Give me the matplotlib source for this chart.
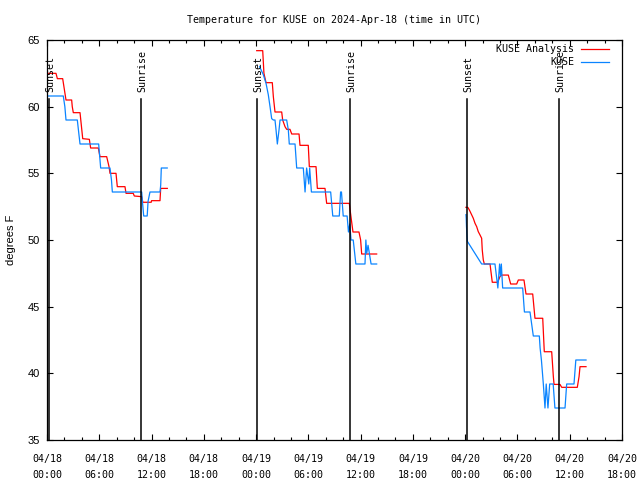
import numpy as np
import matplotlib
matplotlib.use("Agg")
import matplotlib.pyplot as plt
from matplotlib.ticker import MultipleLocator, FixedLocator

# hours since 2024-04-18 00:00 UTC
analysis_hours = [
    0.04, 1.03, 1.19, 1.8, 2.18, 2.83, 2.9, 3.02, 3.79, 4.1, 4.86, 5.01, 5.89, 6.08, 6.85,
    7.12, 7.23, 7.92, 8.07, 8.95, 9.07, 9.9, 10.02, 10.87, 11.0, 11.96, 12.0, 12.97, 13.05, 13.81,
    np.nan,
    24.07, 24.76, 24.9, 25.14, 25.86, 25.98, 26.17, 26.94, 27.05, 27.32, 27.51, 27.89, 28.09,
    28.93, 29.04, 29.99, 30.11, 30.88, 31.03, 31.91, 32.1, 34.7, 34.86, 35.12, 35.81, 36.0,
    36.12, 37.84,
    np.nan,
    48.09, 48.3, 48.48, 48.75, 48.93, 49.13, 49.32, 49.5, 49.7, 49.89, 49.96, 50.08, 50.2,
    50.85, 51.11, 51.73, 51.99, 52.19, 52.95, 53.22, 53.91, 54.1, 54.75, 54.98, 55.75, 56.01,
    56.9, 57.08, 57.93, 58.12, 58.2, 58.88, 59.08, 60.87, 61.07, 61.18, 61.87,
]
analysis_temp = [
    62.5, 62.5, 62.1, 62.1, 60.5, 60.5, 60.0, 59.55, 59.55, 57.6, 57.55, 56.9, 56.9, 56.25, 56.25,
    55.5, 55.0, 55.0, 54.0, 54.0, 53.5, 53.5, 53.3, 53.25, 52.83, 52.83, 52.95, 52.95, 53.87, 53.87,
    np.nan,
    64.2, 64.2, 62.5, 61.8, 61.8, 60.75, 59.6, 59.6, 59.0, 58.5, 58.3, 58.3, 57.95,
    57.95, 57.1, 57.1, 55.5, 55.5, 53.87, 53.87, 52.75, 52.75, 51.9, 50.6, 50.6, 50.0,
    48.95, 48.95,
    np.nan,
    52.45, 52.45, 52.25, 51.88, 51.63, 51.25, 51.0, 50.63, 50.38, 50.13, 49.25, 48.5, 48.2,
    48.2, 46.83, 46.83, 47.25, 47.37, 47.37, 46.7, 46.7, 47.0, 47.0, 45.95, 45.95, 44.13,
    44.13, 41.62, 41.62, 39.75, 39.17, 39.17, 38.95, 38.95, 39.75, 40.5, 40.5,
]

obs_hours = [
    0.04, 1.87, 2.05, 2.18, 3.48, 3.65, 3.79, 5.93, 6.16, 7.23, 7.4, 7.5, 10.87, 10.95, 11.1,
    11.5, 11.6, 11.82, 12.97, 13.05, 13.12, 13.8,
    np.nan,
    24.4, 24.83, 25.14, 25.4, 25.6, 25.79, 25.98, 26.17, 26.29, 26.44, 26.63, 26.75, 27.51,
    27.7, 27.81, 28.47, 28.66, 29.42, 29.62, 29.8, 30.05, 30.15, 30.35, 32.56, 32.8, 33.55,
    33.7, 33.8, 34.0, 34.45, 34.6, 34.75, 34.9, 35.15, 35.45, 36.5, 36.6, 36.7, 36.85, 37.2, 37.84,
    np.nan,
    48.09, 48.12, 48.15, 48.2, 48.25, 49.89, 51.42, 51.75, 51.95, 52.05, 52.15, 52.3, 54.6,
    54.8, 55.44, 55.82, 56.51, 56.6, 56.75, 56.97, 57.16, 57.3, 57.5, 57.7, 58.1, 58.3, 59.46,
    59.65, 60.49, 60.7, 61.87,
]
obs_temp = [
    60.8, 60.8, 60.0, 59.0, 59.0, 58.0, 57.2, 57.2, 55.4, 55.4, 54.5, 53.6, 53.6, 52.9, 51.8,
    51.8, 52.9, 53.6, 53.6, 54.1, 55.4, 55.4,
    np.nan,
    63.0, 62.4, 61.75, 60.9, 60.0, 59.1, 59.0, 59.0, 58.25, 57.2, 58.25, 59.0, 59.0,
    58.25, 57.2, 57.2, 55.4, 55.4, 53.6, 55.4, 54.2, 55.4, 53.6, 53.6, 51.8, 51.8,
    53.6, 53.6, 51.8, 51.8, 50.6, 51.2, 50.0, 50.0, 48.2, 48.2, 50.0, 49.0, 49.6, 48.2, 48.2,
    np.nan,
    51.9, 51.6, 51.0, 50.4, 49.9, 48.2, 48.2, 46.4, 48.2, 47.3, 48.2, 46.4, 46.4,
    44.6, 44.6, 42.8, 42.8, 41.9, 41.0, 39.2, 37.4, 39.2, 37.4, 39.2, 39.2, 37.4, 37.4,
    39.2, 39.2, 41.0, 41.0,
]

sun_hours = [0.2, 10.8, 24.12, 34.8, 48.23, 58.77]
sun_labels = ["Sunset", "Sunrise", "Sunset", "Sunrise", "Sunset", "Sunrise"]

xtick_hours = [0, 6, 12, 18, 24, 30, 36, 42, 48, 54, 60, 66]
xtick_labels = ["04/18\n00:00", "04/18\n06:00", "04/18\n12:00", "04/18\n18:00",
                "04/19\n00:00", "04/19\n06:00", "04/19\n12:00", "04/19\n18:00",
                "04/20\n00:00", "04/20\n06:00", "04/20\n12:00", "04/20\n18:00"]

MONO = "DejaVu Sans Mono"
SANS = "Liberation Sans"

fig = plt.figure(figsize=(6.4, 4.8), dpi=100)
ax = fig.add_axes([47/640, 1 - 440/480, 575/640, 400/480])
ax.set_xlim(0, 66)
ax.set_ylim(35, 65)

ax.plot(analysis_hours, analysis_temp, color="#ff0000", lw=0.9)
ax.plot(obs_hours, obs_temp, color="#0a84ff", lw=0.9)

for h, lab in zip(sun_hours, sun_labels):
    ax.plot([h, h], [35, 60.57], color="black", lw=1.1)
    ax.text(h + 0.15, 61.1, lab, rotation=90, ha="center", va="bottom",
            family=MONO, fontsize=7.2)

ax.xaxis.set_major_locator(FixedLocator(xtick_hours))
ax.xaxis.set_minor_locator(MultipleLocator(2))
ax.set_xticklabels(xtick_labels, family=MONO, fontsize=7.2, linespacing=1.75)
ax.yaxis.set_major_locator(MultipleLocator(5))
for lab in ax.get_yticklabels():
    lab.set_family(SANS)
    lab.set_fontsize(8)
ax.tick_params(axis="both", which="major", direction="in", length=4, width=0.8,
               top=True, right=True)
ax.tick_params(axis="both", which="minor", direction="in", length=2, width=0.8,
               top=True, right=True)
ax.tick_params(axis="x", which="major", pad=10)
ax.tick_params(axis="y", which="major", pad=5)
for s in ax.spines.values():
    s.set_linewidth(0.9)

fig.text(11/640, 0.5, "degrees F", rotation=90, ha="center", va="center",
         family=SANS, fontsize=8)

fig.text(334/640, 1 - 20/480, "Temperature for KUSE on 2024-Apr-18 (time in UTC)",
         ha="center", va="center", family=MONO, fontsize=7.2)

# legend
for i, (lab, col) in enumerate([("KUSE Analysis", "#ff0000"), ("KUSE", "#0a84ff")]):
    yy = 1 - (49.3 + 13 * i - 40) / 400
    ax.text((574 - 47) / 575, yy, lab, transform=ax.transAxes, ha="right", va="center",
            family=MONO, fontsize=7.2)
    ax.plot([(581 - 47) / 575, (609 - 47) / 575], [yy, yy], transform=ax.transAxes,
            color=col, lw=0.9)

fig.savefig("out.png", dpi=100)
